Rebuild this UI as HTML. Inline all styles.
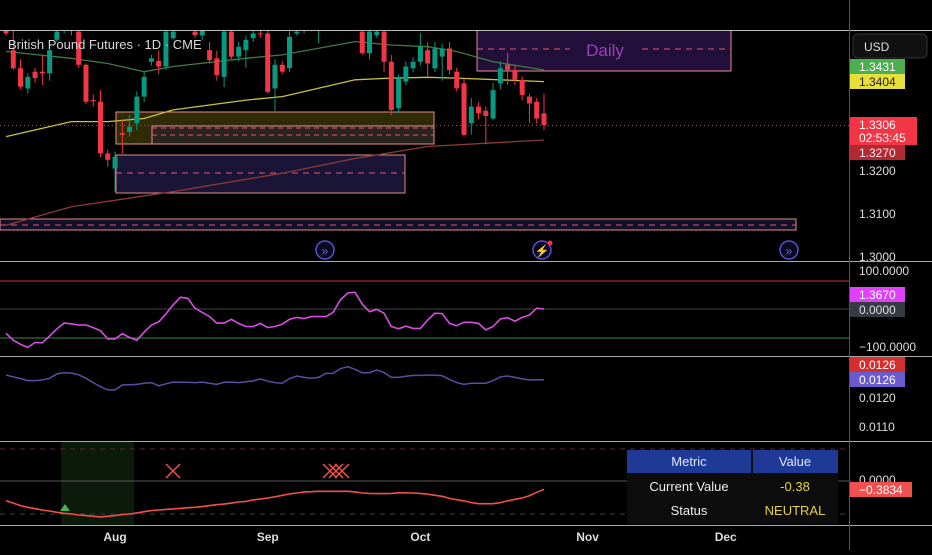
<!DOCTYPE html>
<html><head><meta charset="utf-8"><style>
body{margin:0;background:#000;width:932px;height:550px;overflow:hidden;font-family:"Liberation Sans",sans-serif}
svg text{font-family:"Liberation Sans",sans-serif}
</style></head><body>
<svg id="c" width="932" height="550" xmlns="http://www.w3.org/2000/svg">
<defs>
<clipPath id="mainClip"><rect x="0" y="31" width="849" height="230"/></clipPath>
<clipPath id="plotClip"><rect x="0" y="0" width="849" height="550"/></clipPath>
</defs>
<rect width="932" height="550" fill="#000"/>
<g id="main" clip-path="url(#mainClip)"></g>
<g id="osc" clip-path="url(#plotClip)"></g>
<g id="vol" clip-path="url(#plotClip)"></g>
<g id="sig" clip-path="url(#plotClip)"></g>
<g id="frame"></g>
</svg>
<script>
const openP=[1.3528,1.3481,1.3439,1.3392,1.3431,1.3431,1.3427,1.3505,1.3530,1.3555,1.3524,1.3447,1.3365,1.3361,1.3241,1.3206,1.3288,1.3291,1.3311,1.3373,1.3454,1.3456,1.3443,1.3509,1.3530,1.3560,1.3524,1.3515,1.3481,1.3462,1.3419,1.3524,1.3466,1.3481,1.3509,1.3520,1.3520,1.3392,1.3447,1.3439,1.3520,1.3530,1.3555,1.3550,1.3565,1.3575,1.3560,1.3580,1.3555,1.3524,1.3474,1.3516,1.3524,1.3454,1.3346,1.3408,1.3439,1.3454,1.3481,1.3439,1.3466,1.3485,1.3431,1.3404,1.3311,1.3350,1.3340,1.3322,1.3404,1.3447,1.3435,1.3412,1.3373,1.3361,1.3334];
const closeP=[1.3520,1.3439,1.3396,1.3419,1.3416,1.3427,1.3481,1.3524,1.3550,1.3530,1.3447,1.3361,1.3362,1.3241,1.3226,1.3233,1.3284,1.3303,1.3373,1.3419,1.3462,1.3443,1.3524,1.3524,1.3555,1.3535,1.3516,1.3535,1.3458,1.3423,1.3524,1.3466,1.3489,1.3505,1.3520,1.3518,1.3384,1.3447,1.3431,1.3512,1.3524,1.3550,1.3540,1.3565,1.3575,1.3560,1.3580,1.3555,1.3535,1.3474,1.3524,1.3524,1.3454,1.3342,1.3416,1.3443,1.3454,1.3489,1.3450,1.3485,1.3485,1.3435,1.3392,1.3284,1.3350,1.3334,1.3328,1.3388,1.3439,1.3435,1.3412,1.3377,1.3357,1.3322,1.3307];
const highP=[1.3540,1.3528,1.3460,1.3427,1.3440,1.3470,1.3500,1.3545,1.3560,1.3565,1.3535,1.3450,1.3378,1.3388,1.3250,1.3245,1.3320,1.3330,1.3385,1.3430,1.3470,1.3480,1.3545,1.3550,1.3570,1.3570,1.3540,1.3550,1.3500,1.3480,1.3545,1.3530,1.3500,1.3515,1.3535,1.3530,1.3528,1.3460,1.3455,1.3525,1.3535,1.3565,1.3570,1.3580,1.3590,1.3590,1.3595,1.3590,1.3565,1.3540,1.3535,1.3535,1.3540,1.3470,1.3425,1.3455,1.3465,1.3520,1.3500,1.3500,1.3495,1.3500,1.3440,1.3415,1.3370,1.3360,1.3350,1.3405,1.3455,1.3475,1.3445,1.3420,1.3380,1.3370,1.3380];
const lowP=[1.3515,1.3435,1.3390,1.3380,1.3405,1.3400,1.3410,1.3500,1.3520,1.3515,1.3440,1.3355,1.3350,1.3232,1.3210,1.3152,1.3240,1.3280,1.3295,1.3360,1.3445,1.3425,1.3435,1.3505,1.3525,1.3525,1.3510,1.3505,1.3450,1.3410,1.3395,1.3460,1.3455,1.3440,1.3500,1.3510,1.3380,1.3340,1.3425,1.3430,1.3515,1.3520,1.3525,1.3497,1.3545,1.3545,1.3550,1.3545,1.3525,1.3470,1.3460,1.3510,1.3430,1.3330,1.3335,1.3400,1.3430,1.3445,1.3420,1.3430,1.3410,1.3425,1.3385,1.3280,1.3285,1.3320,1.3262,1.3318,1.3390,1.3400,1.3400,1.3365,1.3311,1.3310,1.3295];
const maFastIdx=[0,9,14,19,23,33,38,48,53,58,62,67,74];
const maFast=[1.3478,1.3462,1.3450,1.3431,1.3443,1.3462,1.3470,1.3501,1.3493,1.3489,1.3478,1.3454,1.3435];
const maMidIdx=[0,9,14,19,23,33,38,48,53,58,62,74];
const maMid=[1.3280,1.3315,1.3315,1.3322,1.3342,1.3365,1.3373,1.3412,1.3416,1.3418,1.3416,1.3408];
const maSlowIdx=[0,9,23,38,48,58,74];
const maSlow=[1.3074,1.3117,1.3152,1.3195,1.3229,1.3257,1.3272];
const oscVals=[-64,-82,-93,-101,-88,-89,-71,-52,-37,-39,-42,-42,-49,-57,-79,-79,-65,-75,-82,-61,-42,-34,-13,11,31,28,2,-9,-20,-37,-37,-27,-38,-46,-46,-38,-49,-46,-40,-27,-22,-25,-20,-20,-20,-9,24,42,44,13,-7,-1,-11,-46,-52,-45,-51,-51,-29,-11,-12,-38,-44,-35,-35,-38,-55,-46,-26,-23,-32,-22,-16,2,0];
const volVals=[0.01279,0.01273,0.01267,0.01260,0.01260,0.01262,0.01268,0.01283,0.01287,0.01286,0.01280,0.01268,0.01253,0.01239,0.01228,0.01228,0.01245,0.01246,0.01247,0.01251,0.01253,0.01242,0.01249,0.01255,0.01254,0.01254,0.01253,0.01255,0.01251,0.01247,0.01254,0.01255,0.01253,0.01256,0.01259,0.01266,0.01258,0.01253,0.01251,0.01267,0.01276,0.01271,0.01268,0.01271,0.01285,0.01285,0.01301,0.01308,0.01299,0.01287,0.01287,0.01297,0.01288,0.01271,0.01271,0.01275,0.01278,0.01278,0.01279,0.01279,0.01277,0.01264,0.01253,0.01247,0.01251,0.01251,0.01251,0.01260,0.01273,0.01276,0.01271,0.01266,0.01262,0.01263,0.01263];
const sigVals=[-0.94,-1.05,-1.17,-1.25,-1.32,-1.38,-1.43,-1.49,-1.54,-1.57,-1.62,-1.65,-1.68,-1.71,-1.68,-1.65,-1.60,-1.57,-1.52,-1.46,-1.41,-1.38,-1.35,-1.33,-1.30,-1.27,-1.25,-1.22,-1.17,-1.13,-1.10,-1.05,-1.00,-0.97,-0.90,-0.86,-0.81,-0.75,-0.68,-0.62,-0.57,-0.52,-0.51,-0.49,-0.49,-0.49,-0.49,-0.49,-0.52,-0.57,-0.59,-0.60,-0.60,-0.59,-0.56,-0.56,-0.57,-0.59,-0.63,-0.68,-0.73,-0.83,-0.89,-0.95,-1.03,-1.08,-1.08,-1.08,-1.03,-0.95,-0.87,-0.81,-0.70,-0.54,-0.40];
const priceTicks=["1.3200","1.3100","1.3000"];
const priceTickVals=[1.32,1.31,1.30];
const dateLabels=["Aug","Sep","Oct","Nov","Dec"];
const dateBarIdx=[15,36,57,80,99];

const NS="http://www.w3.org/2000/svg";
const xOf=i=>6+i*7.27;
const yPrice=p=>171-(p-1.32)*4300;
const yOsc=v=>309-v*0.38;
const yVol=v=>398-(v-0.0120)*29000;
const ySig=v=>481-v*21;
function mk(parent,tag,attrs,text){const e=document.createElementNS(NS,tag);for(const k in attrs)e.setAttribute(k,attrs[k]);if(text!==undefined)e.textContent=text;document.getElementById(parent).appendChild(e);return e;}
function pathFrom(idx,vals,yf){return vals.map((v,k)=>(k?'L':'M')+xOf(idx?idx[k]:k).toFixed(1)+' '+yf(v).toFixed(1)).join(' ');}

// main pane zones
let e;
e=mk('main','rect',{x:0,y:219,width:796,height:11,fill:'#141028',stroke:'#e58c8c','stroke-width':1});

mk('main','line',{x1:0,x2:796,y1:225,y2:225,stroke:'#e05577','stroke-dasharray':'6 5'});
e=mk('main','rect',{x:116,y:155,width:289,height:38,fill:'#1a1436',stroke:'#e58c8c','stroke-width':1});

mk('main','line',{x1:116,x2:405,y1:173,y2:173,stroke:'#e05577','stroke-dasharray':'6 5'});
e=mk('main','rect',{x:116,y:112,width:318,height:32,fill:'#2e2b06',stroke:'#e58c8c','stroke-width':1});

e=mk('main','rect',{x:152,y:126,width:282,height:18,fill:'#2a2420',stroke:'#e58c8c','stroke-width':1});

mk('main','line',{x1:152,x2:434,y1:128,y2:128,stroke:'#e05577','stroke-dasharray':'5 4'});
mk('main','line',{x1:152,x2:434,y1:135,y2:135,stroke:'#e05577','stroke-dasharray':'5 4'});
e=mk('main','rect',{x:477,y:30,width:254,height:41,fill:'#22103a',stroke:'#e58c8c','stroke-width':1});

mk('main','line',{x1:477,x2:731,y1:49,y2:49,stroke:'#e05577','stroke-dasharray':'6 5'});
mk('main','rect',{x:570,y:40,width:70,height:18,fill:'#22103a'});
e=mk('main','text',{x:605,y:56,fill:'#9b3fc0','font-size':17,'text-anchor':'middle'},'Daily');

// MAs
e=mk('main','path',{d:pathFrom(maSlowIdx,maSlow,yPrice),fill:'none',stroke:'#8b3a3a','stroke-width':1.3});

e=mk('main','path',{d:pathFrom(maMidIdx,maMid,yPrice),fill:'none',stroke:'#c9c23a','stroke-width':1.3});

e=mk('main','path',{d:pathFrom(maFastIdx,maFast,yPrice),fill:'none',stroke:'#3f7a45','stroke-width':1.3});

// current price line
mk('main','line',{x1:0,x2:849,y1:yPrice(1.3306),y2:yPrice(1.3306),stroke:'#f23645','stroke-dasharray':'1 3'});
// candles
for(let i=0;i<openP.length;i++){
  const up=closeP[i]>=openP[i];const col=up?'#089981':'#f23645';const x=xOf(i);
  const w=mk('main','line',{x1:x,x2:x,y1:yPrice(highP[i]),y2:yPrice(lowP[i]),stroke:col,'stroke-width':1});
  
  
  const t=yPrice(Math.max(openP[i],closeP[i])),b=yPrice(Math.min(openP[i],closeP[i]));
  const r=mk('main','rect',{x:x-2.5,y:t,width:5,height:Math.max(1,b-t),fill:col});
  
  
}
// event icons
[325,542,789].forEach((cx,k)=>{
  const g=mk('main','circle',{cx:cx,cy:250,r:9,fill:'#0c0a22',stroke:'#5b4fd1','stroke-width':1.5});
  
  
  mk('main','text',{x:cx,y:255,fill:'#6f63e8','font-size':12,'text-anchor':'middle'},k==1?'⚡':'»');
});
mk('main','circle',{cx:550,cy:243,r:2.5,fill:'#f23645'});
e=mk('main','text',{x:8,y:49,fill:'#d8d8d8','font-size':13},'British Pound Futures · 1D · CME');


// oscillator
mk('osc','line',{x1:0,x2:849,y1:281,y2:281,stroke:'#c83030'});
mk('osc','line',{x1:0,x2:849,y1:309,y2:309,stroke:'#444'});
mk('osc','line',{x1:0,x2:849,y1:338,y2:338,stroke:'#3a8a3a'});
e=mk('osc','path',{d:pathFrom(null,oscVals,yOsc),fill:'none',stroke:'#d64fe0','stroke-width':1.6});

// volatility
e=mk('vol','path',{d:pathFrom(null,volVals,yVol),fill:'none',stroke:'#5650a0','stroke-width':1.5});

// signal pane
mk('sig','rect',{x:61,y:441,width:73,height:84,fill:'#0c1a0c'});
mk('sig','line',{x1:0,x2:849,y1:449,y2:449,stroke:'#5a2a2a','stroke-dasharray':'5 5'});
mk('sig','line',{x1:0,x2:849,y1:514,y2:514,stroke:'#444','stroke-dasharray':'5 5'});
mk('sig','line',{x1:0,x2:849,y1:481,y2:481,stroke:'#555'});
e=mk('sig','path',{d:pathFrom(null,sigVals,ySig),fill:'none',stroke:'#f0504a','stroke-width':1.6});

e=mk('sig','polygon',{points:'60,511 65,504 70,511',fill:'#4caf50'});

[[173],[330],[336],[342]].forEach(p=>{
  const cx=p[0];
  const m=mk('sig','path',{d:`M${cx-7} ${464}L${cx+7} ${478}M${cx+7} ${464}L${cx-7} ${478}`,stroke:'#f0504a','stroke-width':1.5});
  
  
});
// table
e=mk('sig','rect',{x:627,y:450,width:211,height:74,fill:'#0c0c0c'});

mk('sig','rect',{x:627,y:450,width:124,height:23,fill:'#1e3a96'});
mk('sig','rect',{x:753,y:450,width:85,height:23,fill:'#1e3a96'});
mk('sig','text',{x:689,y:466,fill:'#dfe6ff','font-size':13,'text-anchor':'middle'},'Metric');
mk('sig','text',{x:795,y:466,fill:'#dfe6ff','font-size':13,'text-anchor':'middle'},'Value');
mk('sig','text',{x:689,y:491,fill:'#eee','font-size':13,'text-anchor':'middle'},'Current Value');
mk('sig','text',{x:795,y:491,fill:'#e6d23a','font-size':13,'text-anchor':'middle'},'-0.38');
mk('sig','text',{x:689,y:515,fill:'#eee','font-size':13,'text-anchor':'middle'},'Status');
mk('sig','text',{x:795,y:515,fill:'#e6d23a','font-size':13,'text-anchor':'middle'},'NEUTRAL');

// frame lines
mk('frame','line',{x1:0,x2:932,y1:30.5,y2:30.5,stroke:'#bbb'});
[261,356,441,525].forEach(y=>mk('frame','line',{x1:0,x2:932,y1:y+.5,y2:y+.5,stroke:'#aaa'}));
mk('frame','line',{x1:849.5,x2:849.5,y1:0,y2:550,stroke:'#555'});
// axis labels
function lab(txt,y,bg,fg,w,name){
  if(bg){const r=mk('frame','rect',{x:850,y:y-8,width:w||55,height:15,fill:bg});
    
    }
  mk('frame','text',{x:859,y:y+4,fill:fg,'font-size':12},txt);
}
e=mk('frame','rect',{x:853,y:34,width:74,height:24,rx:5,fill:'#111',stroke:'#333'});

mk('frame','text',{x:864,y:51,fill:'#ddd','font-size':12},'USD');
priceTicks.forEach((t,k)=>mk('frame','text',{x:859,y:yPrice(priceTickVals[k])+4,fill:'#ddd','font-size':12},t));
lab('1.3431',67,'#4caf50','#fff',55,'price-label-fast');
lab('1.3404',82,'#e8e03a','#222',55,'price-label-mid');
e=mk('frame','rect',{x:850,y:117,width:67,height:28,fill:'#f23645'});

mk('frame','text',{x:859,y:129,fill:'#fff','font-size':12},'1.3306');
mk('frame','text',{x:859,y:142,fill:'#fff','font-size':12},'02:53:45');
lab('1.3270',153,'#b22833','#eee',55,'price-label-slow');
mk('frame','text',{x:859,y:275,fill:'#ddd','font-size':12},'100.0000');
lab('1.3670',295,'#e040fb','#fff',55,'osc-label');
lab('0.0000',310,'#363a45','#ddd',55,'zero-label');
mk('frame','text',{x:859,y:351,fill:'#ddd','font-size':12},'−100.0000');
lab('0.0126',365,'#d32f2f','#fff',55,'vol-label-1');
lab('0.0126',380,'#6a5acd','#fff',55,'vol-label-2');
mk('frame','text',{x:859,y:402,fill:'#ddd','font-size':12},'0.0120');
mk('frame','text',{x:859,y:431,fill:'#ddd','font-size':12},'0.0110');
mk('frame','text',{x:859,y:484,fill:'#ddd','font-size':12},'0.0000');
lab('−0.3834',490,'#f05050','#fff',62,'signal-label');
dateLabels.forEach((d,k)=>{const t=mk('frame','text',{x:xOf(dateBarIdx[k]),y:541,fill:'#ddd','font-size':12,'font-weight':'bold','text-anchor':'middle'},d);
  
  });
</script>
</body></html>
